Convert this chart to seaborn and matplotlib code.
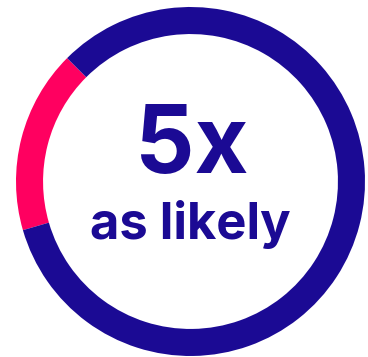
import matplotlib
matplotlib.use("Agg")
import matplotlib.pyplot as plt
import seaborn as sns

labels = ["likely (pink)", "rest"]
values = [17, 83]
colors = ["#ff0060", "#1b0a94"]
big_text = "5x"
sub_text = "as likely"

sns.set_theme(style="white")
plt.rcParams["font.family"] = ["Inter", "DejaVu Sans"]

fig = plt.figure(figsize=(3.68, 3.57), dpi=100)
ax = fig.add_axes([0, 0, 1, 1])
ax.pie(values, colors=colors, startangle=135, counterclock=True,
       radius=1.0, wedgeprops=dict(width=0.155, linewidth=0))
ax.set_xlim(-1.0917, 1.0172)
ax.set_ylim(-1.0057, 1.040)
ax.set_aspect("equal")
ax.axis("off")

ax.text(0.005, 0.047, big_text, ha="center", va="baseline",
        fontsize=67, fontweight="bold", color=colors[1])
ax.text(0.0, -0.33, sub_text, ha="center", va="baseline",
        fontsize=36.5, fontweight="bold", color=colors[1])

fig.savefig("out.png", dpi=100)
